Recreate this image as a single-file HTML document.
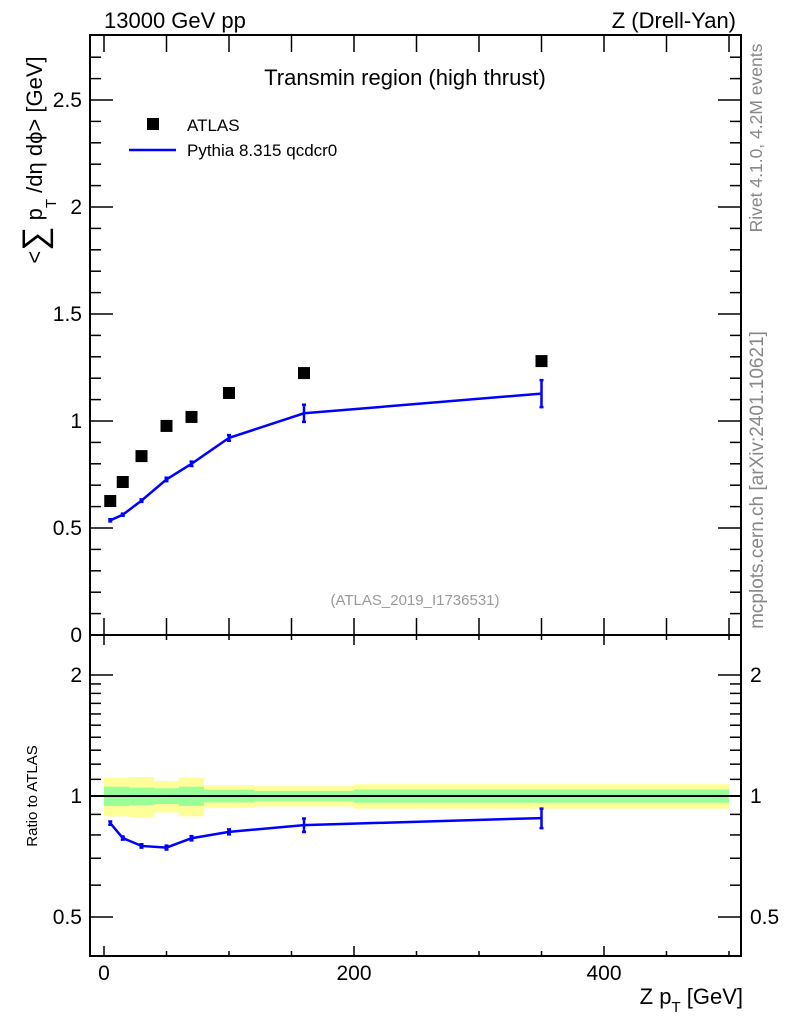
<!DOCTYPE html>
<html><head><meta charset="utf-8"><style>
html,body{margin:0;padding:0;background:#fff;}
svg{display:block;font-family:"Liberation Sans",Arial,sans-serif;}
</style></head><body>
<svg id="chart" width="786" height="1024" viewBox="0 0 786 1024" xmlns="http://www.w3.org/2000/svg">
<g id="bands"></g>
<g id="axes"></g>
<g id="marks"></g>
<text x="104" y="28" font-size="22">13000 GeV pp</text>
<text x="736" y="28" font-size="22" text-anchor="end">Z (Drell-Yan)</text>
<text x="405" y="85" font-size="22" text-anchor="middle">Transmin region (high thrust)</text>
<rect x="147" y="118" width="12" height="12" fill="#000"/>
<text x="187" y="131" font-size="17">ATLAS</text>
<line x1="129" y1="150" x2="176" y2="150" stroke="#0000ff" stroke-width="2.5"/>
<text x="187" y="156" font-size="17">Pythia 8.315 qcdcr0</text>
<text x="415" y="605" font-size="15" fill="#999" text-anchor="middle">(ATLAS_2019_I1736531)</text>
<text transform="translate(762,138) rotate(-90)" font-size="17.5" fill="#888" text-anchor="middle">Rivet 4.1.0,  4.2M events</text>
<text transform="translate(763,480) rotate(-90)" font-size="19" fill="#888" text-anchor="middle">mcplots.cern.ch [arXiv:2401.10621]</text>
<text transform="translate(42,160) rotate(-90)" font-size="22" text-anchor="middle">&lt;<tspan font-size="34" dy="4">∑</tspan><tspan dy="-4"> p</tspan><tspan font-size="15" dy="14">T</tspan><tspan dy="-14"> /dη dϕ&gt; [GeV]</tspan></text>
<text transform="translate(37,796) rotate(-90)" font-size="15" text-anchor="middle">Ratio to ATLAS</text>
<text x="743" y="1004" font-size="22" text-anchor="end">Z p<tspan font-size="15" dy="8">T</tspan><tspan dy="-8"> [GeV]</tspan></text>
</svg>
<script>
const xCenters=[5,15,30,50,70,100,160,350];
const atlasValues=[0.626,0.715,0.836,0.977,1.019,1.131,1.224,1.280];
const pythiaValues=[0.536,0.562,0.628,0.727,0.800,0.921,1.036,1.128];
const pythiaErrors=[0.005,0.005,0.006,0.008,0.01,0.013,0.04,0.063];
const bandEdges=[0,20,40,60,80,120,200,500];
const bandTotal=[0.11,0.115,0.09,0.11,0.065,0.058,0.07];
const bandStat=[0.055,0.05,0.045,0.055,0.036,0.03,0.038];
const mainYTicks=[0,0.5,1,1.5,2,2.5];
const mainYTickLabels=["0","0.5","1","1.5","2","2.5"];
const ratioYTicks=[0.5,1,2];
const ratioYTickLabels=["0.5","1","2"];
const xTicks=[0,200,400];
const xTickLabels=["0","200","400"];

const NS="http://www.w3.org/2000/svg";
const L=90,R=741,T=35,M=635,B=956;
const X=v=>104+v*1.25;
const Y=v=>635-v*214;
const RY=v=>796-121*Math.log2(v);
function mk(tag,attrs,parent){const e=document.createElementNS(NS,tag);for(const k in attrs)e.setAttribute(k,attrs[k]);parent.appendChild(e);return e;}
const axes=document.getElementById('axes'),marks=document.getElementById('marks'),bands=document.getElementById('bands');

for(let i=0;i<bandTotal.length;i++){
  const x0=X(bandEdges[i]),x1=X(bandEdges[i+1]);
  const y=mk('rect',{x:x0,y:RY(1+bandTotal[i]),width:x1-x0,height:RY(1-bandTotal[i])-RY(1+bandTotal[i]),fill:'#ffff99'},bands);
  
  
  const g=mk('rect',{x:x0,y:RY(1+bandStat[i]),width:x1-x0,height:RY(1-bandStat[i])-RY(1+bandStat[i]),fill:'#99ff99'},bands);
  
  
}
const one=mk('line',{x1:L,x2:R,y1:RY(1),y2:RY(1),stroke:'#000','stroke-width':2},bands);



const f1=mk('rect',{x:L,y:T,width:R-L,height:M-T,fill:'none',stroke:'#000','stroke-width':2},axes);


const f2=mk('rect',{x:L,y:M,width:R-L,height:B-M,fill:'none',stroke:'#000','stroke-width':2},axes);



function tick(x1,y1,x2,y2){const t=mk('line',{x1,y1,x2,y2,stroke:'#000','stroke-width':1.5},axes);

}
for(let v=0;v<=500;v+=50){const x=X(v);const maj=v%200===0;
  tick(x,T,x,T+17);tick(x,M,x,M-17);
  tick(x,M,x,M+(maj?10:5));tick(x,B,x,B-(maj?10:5));}
for(let k=0;k<=27;k++){const v=k/10;const y=Y(v);const maj=k%5===0;const l=maj?23:11;
  tick(L,y,L+l,y);tick(R,y,R-l,y);}
const rminor=[0.4,0.5,0.6,0.7,0.8,0.9,1,1.1,1.2,1.3,1.4,1.5,1.6,1.7,1.8,1.9,2];
rminor.forEach(v=>{const y=RY(v);if(y>B)return;const maj=ratioYTicks.includes(v);const l=maj?23:11;tick(L,y,L+l,y);tick(R,y,R-l,y);});

function label(txt,x,y,anchor,name){const t=mk('text',{x,y,'font-size':21,'text-anchor':anchor},axes);t.textContent=txt;

}
mainYTicks.forEach((v,i)=>label(mainYTickLabels[i],82,Y(v)+7,'end','y-tick-label'));
ratioYTicks.forEach((v,i)=>{label(ratioYTickLabels[i],82,RY(v)+7,'end','ratio-y-tick-label');label(ratioYTickLabels[i],750,RY(v)+7,'start','ratio-y-tick-label-right');});
xTicks.forEach((v,i)=>label(xTickLabels[i],X(v),980,'middle','x-tick-label'));

xCenters.forEach((x,i)=>{const r=mk('rect',{x:X(x)-6,y:Y(atlasValues[i])-6,width:12,height:12,fill:'#000'},marks);

});
const blue='#0000ff';
const p1=mk('polyline',{points:xCenters.map((x,i)=>X(x)+','+Y(pythiaValues[i])).join(' '),fill:'none',stroke:blue,'stroke-width':2.5},marks);


function ebar(x,y0,y1){const g=mk('path',{d:`M${x},${y0}V${y1}M${x-2},${y0}H${x+2}M${x-2},${y1}H${x+2}`,stroke:blue,'stroke-width':2.5,fill:'none'},marks);

}
xCenters.forEach((x,i)=>ebar(X(x),Y(pythiaValues[i]-pythiaErrors[i]),Y(pythiaValues[i]+pythiaErrors[i])));
const ratio=pythiaValues.map((v,i)=>v/atlasValues[i]);
const p2=mk('polyline',{points:xCenters.map((x,i)=>X(x)+','+RY(ratio[i])).join(' '),fill:'none',stroke:blue,'stroke-width':2.5},marks);


xCenters.forEach((x,i)=>{const e=pythiaErrors[i]/atlasValues[i];ebar(X(x),RY(ratio[i]-e),RY(ratio[i]+e));});
</script>
</body></html>
